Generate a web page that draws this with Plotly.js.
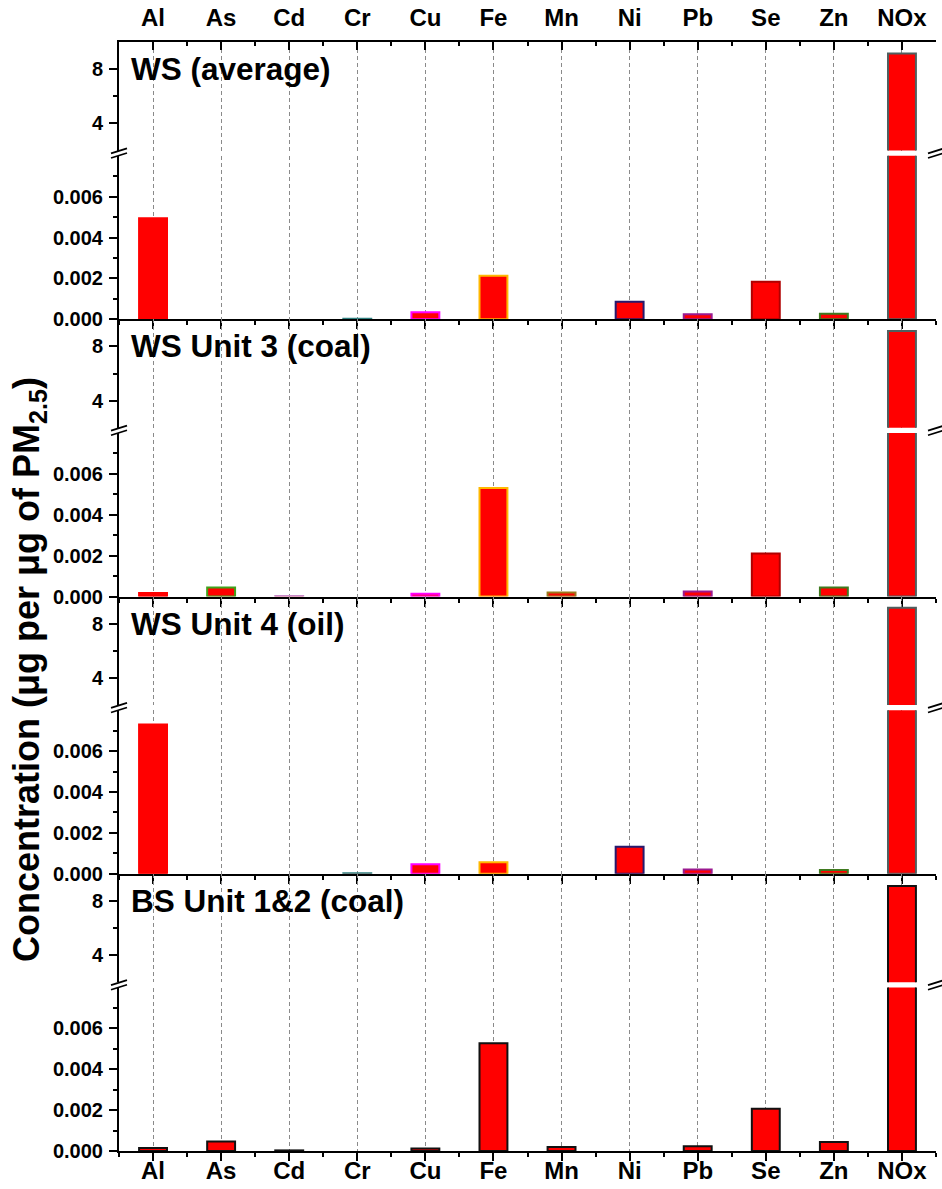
<!DOCTYPE html>
<html>
<head>
<meta charset="utf-8">
<script src="https://cdn.plot.ly/plotly-3.0.1.min.js"></script>
<style>
  html, body { margin: 0; padding: 0; background: #fff; }
  #chart { width: 942px; height: 1189px; }
</style>
</head>
<body>
<div id="chart"></div>
<script>
// Species measured in the stack emissions
const categories = ['Al', 'As', 'Cd', 'Cr', 'Cu', 'Fe', 'Mn', 'Ni', 'Pb', 'Se', 'Zn', 'NOx'];

// Concentration (ug per ug of PM2.5) for each source; null = not reported
const wsAverage = [0.00494, null, null, 0.00002, 0.00034, 0.00213, null, 0.00086, 0.00024, 0.00184, 0.00027, 9.16];
const wsUnit3   = [0.00017, 0.00044, 0.00002, null, 0.00013, 0.00531, 0.00020, null, 0.00025, 0.00210, 0.00044, 9.13];
const wsUnit4   = [0.00731, null, null, 0.00003, 0.00046, 0.00056, null, 0.00132, 0.00021, null, 0.00018, 9.18];
const bsUnit12  = [0.00015, 0.00046, 0.00003, null, 0.00012, 0.00527, 0.00020, null, 0.00023, 0.00207, 0.00044, 9.10];

const panelTitles = ['WS (average)', 'WS Unit 3 (coal)', 'WS Unit 4 (oil)', 'BS Unit 1&amp;2 (coal)'];
const panelSeries = [wsAverage, wsUnit3, wsUnit4, bsUnit12];

// Upper (broken) segment and lower segment tick labels
const upperTickVals = [4, 8];
const upperTickText = ['4', '8'];
const upperMinorVals = [6];
const lowerTickVals = [0, 0.002, 0.004, 0.006];
const lowerTickText = ['0.000', '0.002', '0.004', '0.006'];
const lowerMinorVals = [0.001, 0.003, 0.005, 0.007];
const upperRange = [2, 10];
const lowerRange = [0, 0.008];

// Bar edge colours per species (the BS panel uses black edges)
const edgeColors = ['#ff0000', '#3fa21a', '#c88ac8', '#2f8080', '#ff00ff', '#ffb800',
                    '#9a7a1c', '#261a6e', '#9a1a90', '#b00000', '#3f7a1f', '#4f5f5f'];
const bsEdgeColor = '#111111';

// ---- page geometry (pixels) ----
const W = 942, H = 1189;
const M = { l: 119, r: 6, t: 42, b: 38 };
const plotW = W - M.l - M.r;
const plotH = H - M.t - M.b;
const panelH = plotH / 4;
const upperH = 108.6;      // height of the 2..10 segment
const breakGap = 5.2;      // white gap between the two segments

const yPaper = p => (H - M.b - p) / plotH;
const xPaper = p => (p - M.l) / plotW;

const FONT = 'Arial, "Liberation Sans", sans-serif';
const tickFont = { family: FONT, size: 20, color: '#000', weight: 'bold' };
const catFont = { family: FONT, size: 24, color: '#000', weight: 'bold' };

const xPos = categories.map((_, i) => i);
const halfPos = [];
for (let i = 0; i <= categories.length; i++) halfPos.push(i - 0.5);
const xRange = [-0.5, categories.length - 0.5];

const traces = [];
const layout = {
  width: W, height: H,
  margin: M,
  paper_bgcolor: '#fff', plot_bgcolor: '#fff',
  showlegend: false,
  annotations: [],
  shapes: []
};

const axName = (letter, n) => (n === 1 ? letter : letter + n);
const axKey = (letter, n) => (n === 1 ? letter + 'axis' : letter + 'axis' + n);

panelSeries.forEach((vals, k) => {
  const top = M.t + k * panelH;
  const bottom = top + panelH;
  const xN = k + 1;
  const yUp = 2 * k + 1, yLo = 2 * k + 2;
  const lineColors = k === 3 ? categories.map(() => bsEdgeColor) : edgeColors;

  [yUp, yLo].forEach(yN => {
    traces.push({
      type: 'bar',
      x: xPos,
      y: vals,
      width: 0.41,
      xaxis: axName('x', xN),
      yaxis: axName('y', yN),
      marker: { color: '#ff0000', line: { color: lineColors, width: 2 } },
      hoverinfo: 'skip'
    });
  });

  // x axis at the bottom of each panel
  layout[axKey('x', xN)] = {
    domain: [0, 1],
    anchor: axName('y', yLo),
    range: xRange,
    tickmode: 'array', tickvals: xPos, ticktext: categories,
    showticklabels: k === 3,
    tickfont: catFont,
    ticklabelstandoff: -11,
    ticks: 'outside', ticklen: 8, tickwidth: 2, tickcolor: '#000',
    minor: { tickmode: 'array', tickvals: halfPos, ticks: 'outside', ticklen: 4, tickwidth: 2, tickcolor: '#000', showgrid: false },
    showline: true, linecolor: '#000', linewidth: 2,
    showgrid: true, gridcolor: '#8a8a8a', gridwidth: 1, griddash: '4px,3px',
    zeroline: false, fixedrange: true
  };

  const segs = [
    { n: yUp, dom: [yPaper(top + upperH), yPaper(top)], range: upperRange,
      tv: upperTickVals, tt: upperTickText, mv: upperMinorVals },
    { n: yLo, dom: [yPaper(bottom), yPaper(top + upperH + breakGap)], range: lowerRange,
      tv: lowerTickVals, tt: lowerTickText, mv: lowerMinorVals }
  ];
  segs.forEach(s => {
    layout[axKey('y', s.n)] = {
      domain: s.dom, anchor: axName('x', xN), range: s.range,
      tickmode: 'array', tickvals: s.tv, ticktext: s.tt, tickfont: tickFont,
      ticks: 'outside', ticklen: 8, tickwidth: 2, tickcolor: '#000',
      ticklabelstandoff: 2,
      minor: { tickmode: 'array', tickvals: s.mv, ticks: 'outside', ticklen: 4, tickwidth: 2, tickcolor: '#000', showgrid: false },
      showline: true, linecolor: '#000', linewidth: 2,
      showgrid: false, zeroline: false, fixedrange: true
    };
    // right-hand frame with inward ticks
    layout[axKey('y', s.n + 8)] = {
      overlaying: axName('y', s.n), side: 'right', anchor: axName('x', xN),
      range: s.range,
      tickmode: 'array', tickvals: s.tv, showticklabels: false,
      ticks: 'inside', ticklen: 8, tickwidth: 2, tickcolor: '#000',
      minor: { tickmode: 'array', tickvals: s.mv, ticks: 'inside', ticklen: 4, tickwidth: 2, tickcolor: '#000', showgrid: false },
      showline: true, linecolor: '#000', linewidth: 2,
      showgrid: false, zeroline: false, fixedrange: true
    };
  });

  // panel label
  layout.annotations.push({
    text: '<b>' + panelTitles[k] + '</b>',
    xref: 'paper', x: xPaper(129), xanchor: 'left',
    yref: axName('y', yUp), y: 8, yanchor: 'middle',
    showarrow: false,
    font: { family: FONT, size: 31.5, color: '#000', weight: 'bold' }
  });

  // axis-break marks on both sides
  const yc = top + upperH + breakGap / 2;
  [M.l, W - M.r].forEach(xc => {
    [-2.3, 2.3].forEach(d => {
      layout.shapes.push({
        type: 'line', xref: 'paper', yref: 'paper',
        x0: xPaper(xc - 8), y0: yPaper(yc + d + 2.5),
        x1: xPaper(xc + 8), y1: yPaper(yc + d - 2.5),
        line: { color: '#000', width: 1.8 }
      });
    });
  });
});

// category labels along the top frame (own axis over the first panel)
traces.push({
  type: 'scatter', mode: 'markers',
  x: [xPos[0]], y: [upperRange[0]],
  xaxis: 'x5', yaxis: 'y',
  marker: { opacity: 0, size: 1 },
  hoverinfo: 'skip', showlegend: false
});
layout.xaxis5 = {
  overlaying: 'x', side: 'top', anchor: 'y',
  range: xRange,
  tickmode: 'array', tickvals: xPos, ticktext: categories, tickfont: catFont,
  ticks: 'inside', ticklen: 8, tickwidth: 2, tickcolor: '#000',
  ticklabelstandoff: 4,
  minor: { tickmode: 'array', tickvals: halfPos, ticks: 'inside', ticklen: 4, tickwidth: 2, tickcolor: '#000', showgrid: false },
  showline: true, linecolor: '#000', linewidth: 2,
  showgrid: false, zeroline: false, fixedrange: true
};

// shared y-axis title
layout.annotations.push({
  text: '<b>Concentration (μg per μg of PM<sub>2.5</sub>)</b>',
  xref: 'paper', x: xPaper(29), xanchor: 'center',
  yref: 'paper', y: yPaper(670), yanchor: 'middle',
  textangle: -90, showarrow: false,
  font: { family: FONT, size: 36, color: '#000', weight: 'bold' }
});

Plotly.newPlot('chart', traces, layout, { staticPlot: true, displayModeBar: false });
</script>
</body>
</html>
